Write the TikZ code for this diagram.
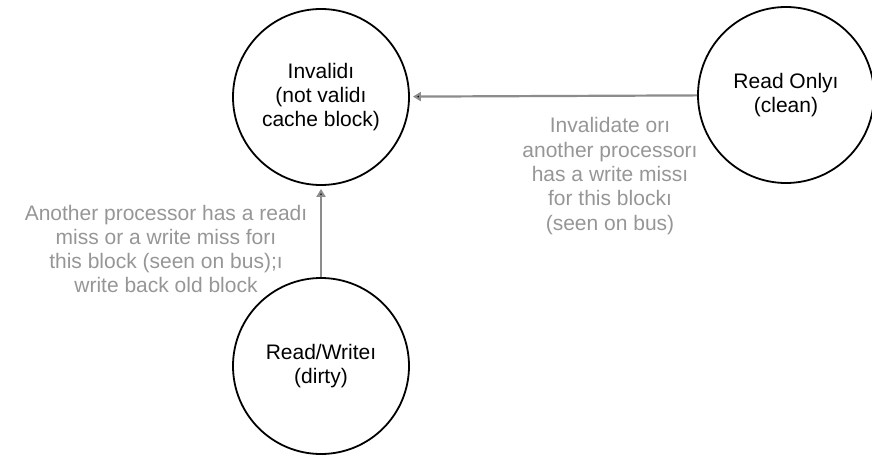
\documentclass[tikz,border=0pt]{standalone}
\usepackage{fontspec}
\setmainfont{Liberation Sans}
\usetikzlibrary{arrows.meta,positioning}
\definecolor{edgegray}{RGB}{140,140,140}
\definecolor{labelgray}{RGB}{150,150,150}
\tikzset{
    state/.style={
    circle,draw=black,line width=1.8pt,minimum size=176pt,inner sep=0pt,align=center,
    font=\fontsize{21}{24}\selectfont
    },
    note/.style={
    align=center,text=labelgray,font=\fontsize{21}{24.3}\selectfont
    },
    trans/.style={
    draw=edgegray,line width=2.2pt,-{Triangle[length=8pt,width=9pt]}
    },
}
\begin{document}
\begin{tikzpicture}[x=1pt, y=-1pt, shorten >=3pt]
   \useasboundingbox (0,0) rectangle (872,455);
   \node[state] (inv) at (321,97) {Invalidı\\(not validı\\cache block)};
   \node[state] (ro) at (786,95) {Read Onlyı\\(clean)};
   \node[state] (rw) at (321,366) {Read/Writeı\\(dirty)};

   \node[note] (ninv) at (610,176) {Invalidate orı\\another processorı\\has a write missı\\for this blockı\\(seen on bus)};
   \node[note] (nrw) at (166,249) {Another processor has a readı\\miss or a write miss forı\\this block (seen on bus);ı\\write back old block};

  \path[trans]
    (ro) edge node {} (inv)
    (rw) edge node {} (inv);
  \end{tikzpicture}
\end{document}
